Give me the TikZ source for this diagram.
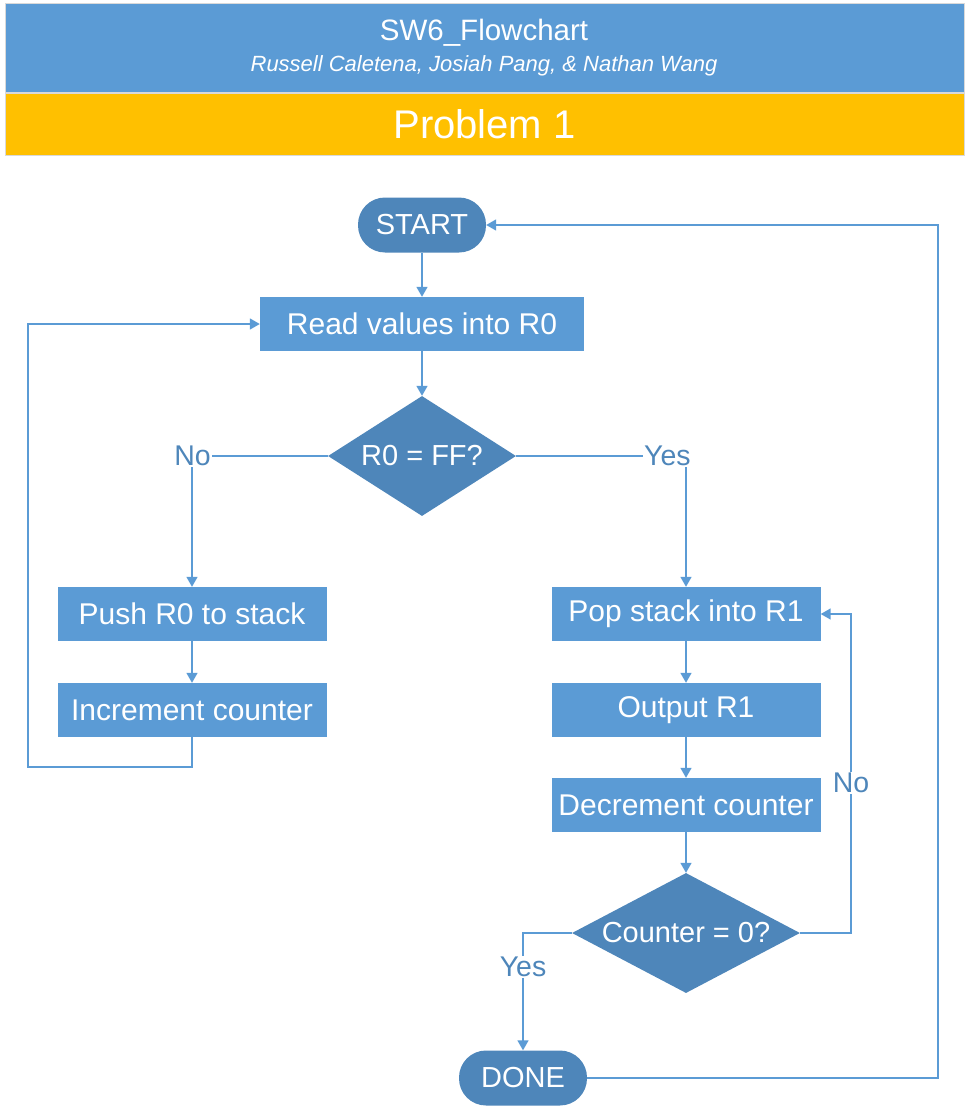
\documentclass[tikz,border=0pt]{standalone}
\usepackage{fontspec}
\setmainfont{Liberation Sans}
\usetikzlibrary{arrows.meta,shapes.geometric}

\begin{document}
\begin{tikzpicture}[x=1pt, y=-1pt,
    procbox/.style={fill=boxblue, text=white, minimum width=269, minimum height=54,
      inner sep=0pt, font=\fontsize{30}{34}\selectfont},
    termbox/.style={fill=darkblue, text=white, rounded corners=27pt, minimum width=128,
      minimum height=55, inner sep=0pt, font=\fontsize{29}{32}\selectfont},
    decision/.style={diamond, fill=darkblue, text=white, inner sep=0pt,
      font=\fontsize{29}{32}\selectfont},
    lbl/.style={fill=white, text=darkblue, inner sep=1pt, font=\fontsize{28.5}{31}\selectfont},
    flow/.style={draw=boxblue, line width=1.5pt},
    arr/.style={flow, -{Triangle[length=10pt, width=11pt]}}]
  \definecolor{boxblue}{RGB}{91,155,213}
  \definecolor{darkblue}{RGB}{78,134,186}
  \definecolor{probyellow}{RGB}{255,192,0}
  \useasboundingbox (0,0) rectangle (970,1116);

  % header
  \node[fill=boxblue, draw=black!15, minimum width=959, minimum height=89, inner sep=0pt] (head) at (484.5,47.5) {};
  \node[text=white, font=\fontsize{29.5}{32}\selectfont] (title) at (484,33) {SW6\_Flowchart};
  \node[text=white, font=\itshape\fontsize{22}{25}\selectfont] (names) at (484,66) {Russell Caletena, Josiah Pang, \& Nathan Wang};
  \node[fill=probyellow, draw=black!15, minimum width=959, minimum height=62, inner sep=0pt, text=white,
    font=\fontsize{40}{44}\selectfont] (prob) at (484.5,124) {Problem 1};

  % main column
  \node[termbox] (start) at (422,225) {START};
  \node[procbox, minimum width=324] (read) at (422,324) {Read values into R0};
  \node[decision, shape aspect=1.57, minimum width=188, minimum height=120] (ff) at (422,456) {R0 = FF?};
  \node[lbl, anchor=east] (nol) at (212,456) {No};
  \node[lbl, anchor=west] (yesr) at (643,456) {Yes};

  % left branch
  \node[procbox] (push) at (192,614) {Push R0 to stack};
  \node[procbox] (inc) at (192,710) {Increment counter};
  \coordinate (lp) at (28,767);

  % right branch
  \node[procbox] (pop) at (686,614) {Pop stack into R1};
  \node[procbox] (out) at (686,710) {Output R1};
  \node[procbox] (dec) at (686,805) {Decrement counter};
  \node[decision, shape aspect=1.9, minimum width=228, minimum height=120] (cnt) at (686,933) {Counter = 0?};
  \node[lbl] (nor) at (851,783) {No};
  \node[lbl] (yesb) at (523,967) {Yes};
  \node[termbox] (done) at (523,1078) {DONE};
  \coordinate (rt) at (938,1078);
  \coordinate (nc) at (851,933);

  \draw[arr] (start) -- (read);
  \draw[arr] (read) -- (ff);
  \draw[flow] (ff.west) -- (nol.east);
  \draw[arr] (push.north |- nol.south) -- (push.north);
  \draw[arr] (push) -- (inc);
  \draw[arr] (inc.south) |- (lp) |- (read.west);
  \draw[flow] (ff.east) -- (yesr.west);
  \draw[arr] (pop.north |- yesr.south) -- (pop.north);
  \draw[arr] (pop) -- (out);
  \draw[arr] (out) -- (dec);
  \draw[arr] (dec) -- (cnt);
  \draw[flow] (cnt.east) -- (nc) -- (nor.south);
  \draw[arr] (nor.north) |- (pop.east);
  \draw[flow] (cnt.west) -| (yesb.north);
  \draw[arr] (yesb.south) -- (done.north);
  \draw[arr] (done.east) -- (rt) |- (start.east);
\end{tikzpicture}
\end{document}
